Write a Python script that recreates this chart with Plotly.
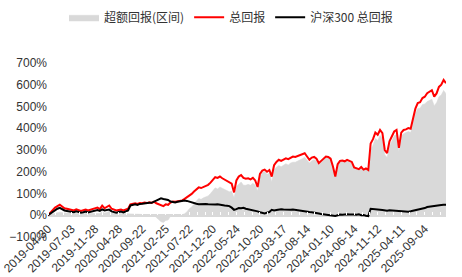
import plotly.graph_objects as go

tick_labels = ["2019-04-30", "2019-07-03", "2019-11-28", "2020-04-28", "2020-09-22",
               "2021-02-25", "2021-07-22", "2021-12-20", "2022-05-24", "2022-10-20",
               "2023-03-17", "2023-08-14", "2024-01-10", "2024-06-14", "2024-11-12",
               "2025-04-11", "2025-09-04"]
label_step = 10  # points between labelled dates

total_return = [
    0, 12, 25, 35, 42, 48, 40, 32, 30, 28,
    25, 22, 27, 24, 20, 23, 26, 22, 25, 28,
    30, 35, 28, 44, 32, 38, 45, 30, 25, 22,
    24, 26, 22, 25, 30, 50, 53, 55, 52, 56,
    55, 58, 56, 60, 57, 62, 55, 50, 48, 42,
    50, 48, 58, 63, 62, 64, 63, 68, 75, 82,
    92, 98, 109, 118, 128, 125, 130, 135, 140, 150,
    165, 175, 172, 178, 170, 163, 155, 150, 145, 105,
    160, 178, 185, 172, 168, 170, 165, 172, 160, 130,
    190, 205, 210, 200, 208, 178, 230, 245, 255, 250,
    255, 262, 258, 265, 270, 268, 272, 275, 280, 285,
    270, 255, 265, 268, 260, 240, 250, 260, 270, 268,
    260, 224, 178, 235, 250, 252, 248, 255, 250, 245,
    220, 215, 212, 222, 210, 215, 208, 330, 350, 380,
    370, 392, 378, 300, 286, 340, 365, 385, 392, 310,
    380, 392, 395, 401, 398, 447, 490, 516, 520, 539,
    545, 561, 570, 575, 545, 560, 590, 600, 622, 607,
]

hs300_return = [
    0, 8, 18, 26, 30, 34, 28, 22, 20, 18,
    16, 14, 18, 15, 12, 14, 17, 13, 15, 18,
    20, 24, 20, 27, 22, 25, 26, 18, 14, 12,
    15, 17, 13, 16, 22, 45, 48, 50, 47, 52,
    53, 55, 54, 58, 57, 62, 65, 72, 78, 75,
    74, 70, 63, 60, 59, 62, 64, 66, 68, 66,
    62, 60, 55, 53, 51, 52, 50, 52, 51, 50,
    50, 49, 51, 48, 46, 45, 44, 42, 35, 25,
    28, 33, 32, 34, 30, 28, 27, 25, 22, 18,
    14, 10, 8, 12, 15, 25, 22, 24, 26, 27,
    26, 25, 27, 25, 26, 24, 23, 22, 20, 18,
    17, 15, 14, 13, 10, 8, 6, 5, 3, 2,
    0, -2, -3, 0, 3, 2, 4, 5, 3, 4,
    3, 2, 4, 0, 1, -2, -4, 30, 28, 27,
    26, 25, 24, 22, 21, 23, 22, 20, 21, 17,
    16, 17, 15, 16, 18, 20, 23, 25, 28, 30,
    33, 38, 40, 42, 41, 43, 45, 47, 48, 48,
]

excess_return = [
    0, 4, 7, 9, 12, 14, 12, 10, 10, 10,
    9, 8, 9, 9, 8, 9, 9, 9, 10, 10,
    10, 11, 8, 17, 10, 13, 19, 12, 11, 10,
    9, 9, 9, 9, 8, 5, 5, 5, 5, 4,
    2, 3, 2, 2, 0, 0, -10, -22, -30, -33,
    -24, -22, -5, 3, 3, 2, -1, 2, 7, 16,
    30, 38, 54, 65, 77, 73, 80, 83, 89, 100,
    115, 126, 121, 130, 124, 118, 111, 108, 110, 80,
    132, 145, 153, 138, 138, 142, 138, 147, 138, 112,
    176, 195, 202, 188, 193, 153, 208, 221, 229, 223,
    229, 237, 231, 240, 244, 244, 249, 253, 260, 267,
    253, 240, 251, 255, 250, 232, 244, 255, 267, 266,
    260, 226, 181, 235, 247, 250, 244, 250, 247, 241,
    217, 213, 208, 222, 209, 217, 212, 300, 322, 353,
    344, 367, 354, 278, 265, 317, 343, 365, 371, 293,
    364, 375, 380, 385, 380, 427, 467, 491, 492, 509,
    512, 523, 530, 533, 504, 517, 545, 553, 574, 559,
]

y_min, y_max = -100, 700
x = list(range(len(total_return)))
tick_vals = [i * label_step for i in range(len(tick_labels))]

fig = go.Figure()
fig.add_trace(go.Scatter(x=x, y=excess_return, name="超额回报(区间)", mode="lines",
                         fill="tozeroy", fillcolor="#D9D9D9",
                         line=dict(color="#D9D9D9", width=0.5)))
fig.add_trace(go.Scatter(x=x, y=total_return, name="总回报", mode="lines",
                         line=dict(color="#FF0000", width=2)))
fig.add_trace(go.Scatter(x=x, y=hs300_return, name="沪深300 总回报", mode="lines",
                         line=dict(color="#000000", width=2)))

tick_font = dict(family="Liberation Sans, Arial, sans-serif", size=12, color="#333333")

fig.update_layout(
    width=462, height=277,
    margin=dict(l=48, r=16, t=63, b=40),
    plot_bgcolor="white", paper_bgcolor="white",
    legend=dict(orientation="h", xref="container", x=0.5, xanchor="center",
                yref="container", y=0.99, yanchor="top",
                font=dict(family="Noto Sans CJK SC", size=12, color="#333333"),
                itemwidth=30, tracegroupgap=0),
    xaxis=dict(range=[0, len(x) - 1], tickmode="array", tickvals=tick_vals,
               ticktext=tick_labels, tickangle=-45, showgrid=False,
               showline=False, zeroline=False, ticks="outside", ticklen=1,
               tickcolor="rgba(0,0,0,0)", tickfont=tick_font,
               minor=dict(ticks="inside", ticklen=3, tickcolor="white",
                          tickwidth=1, tickmode="linear", tick0=0,
                          dtick=label_step / 3, showgrid=False),
               automargin=False, anchor="free",
               position=(0 - y_min) / (y_max - y_min)),
    yaxis=dict(range=[y_min, y_max], dtick=100, ticksuffix="%", showgrid=False,
               showline=False, zeroline=True, zerolinecolor="#D9D9D9",
               zerolinewidth=3, ticks="", tickfont=tick_font, automargin=False),
)

fig.write_html("out.html")
